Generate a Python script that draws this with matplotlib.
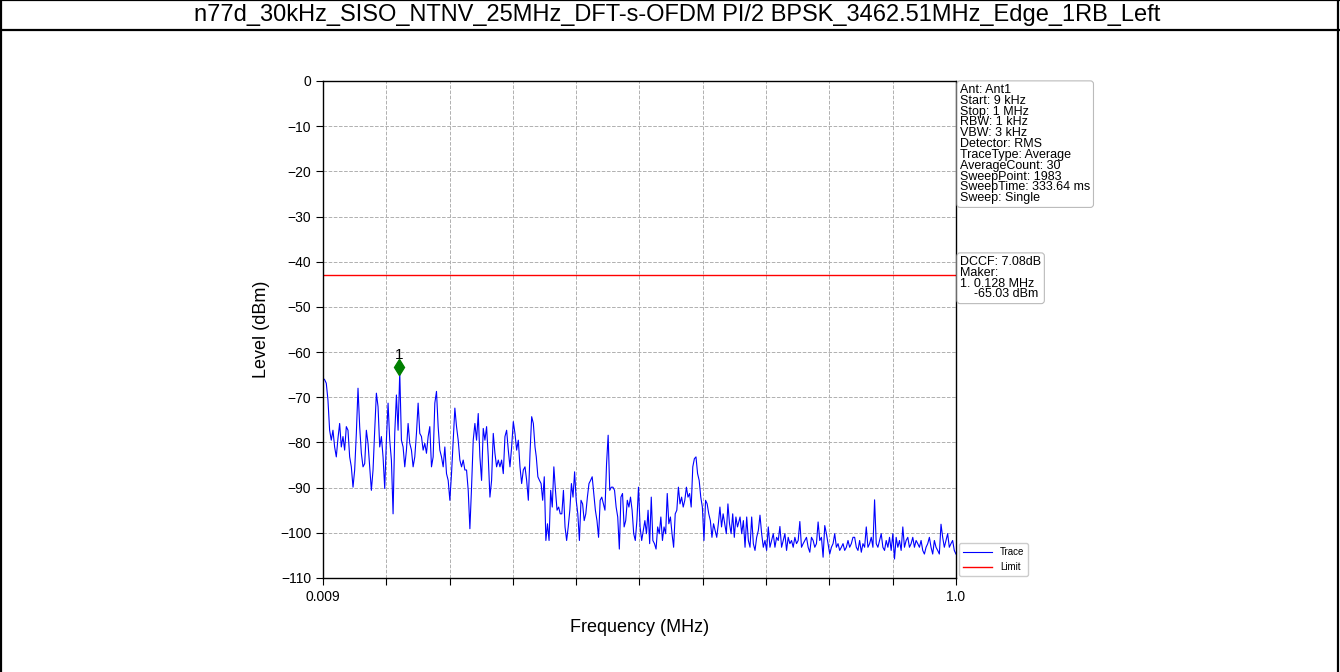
import numpy as np
import matplotlib
matplotlib.use('Agg')
import matplotlib.pyplot as plt
from matplotlib.lines import Line2D

plt.rcParams['font.family'] = ['Liberation Sans', 'DejaVu Sans']

# chart texts and settings
title = "n77d_30kHz_SISO_NTNV_25MHz_DFT-s-OFDM PI/2 BPSK_3462.51MHz_Edge_1RB_Left"
f_start = 0.009
f_stop = 1.0
limit_level = -43.0
marker_freq = 0.128
marker_level = -63.3
info_lines = ["Ant: Ant1", "Start: 9 kHz", "Stop: 1 MHz", "RBW: 1 kHz", "VBW: 3 kHz",
              "Detector: RMS", "TraceType: Average", "AverageCount: 30",
              "SweepPoint: 1983", "SweepTime: 333.64 ms", "Sweep: Single"]
marker_lines = ["DCCF: 7.08dB", "Maker:", "1. 0.128 MHz", "    -65.03 dBm"]

# trace levels (dBm), read in three stretches of the sweep
level_a = [-65.8, -66.1, -66.9, -70.6, -77.3, -79.5, -77.3, -81.0, -83.2, -79.1,
           -75.8, -81.0, -78.7, -81.7, -76.5, -77.3, -83.2, -85.4, -89.9, -86.1,
           -78.0, -68.0, -76.5, -82.4, -85.4, -84.7, -77.3, -80.2, -85.4, -90.6,
           -86.1, -77.3, -69.1, -72.1, -81.0, -78.7, -83.2, -90.2, -79.5, -71.3,
           -79.5, -83.9, -95.8, -78.0, -69.5, -77.3, -64.5, -79.5, -81.0, -85.4,
           -81.7, -75.8, -80.2, -81.7, -85.4, -83.2, -78.0, -71.3, -78.0, -78.7,
           -81.7, -80.2, -82.4, -78.7, -76.5, -85.4, -83.2, -71.3, -68.7, -76.5,
           -81.7, -83.2, -85.4, -81.0, -86.9, -88.4, -92.8, -86.9, -79.5, -72.4,
           -76.5, -79.5, -83.9, -85.4, -83.9, -86.1, -86.1, -90.6, -99.1, -89.9,
           -79.5, -75.8, -79.5, -73.6, -83.2, -88.4, -76.9, -79.5, -76.5, -83.2,
           -92.1, -88.4, -78.0, -82.4, -85.4, -83.9, -85.4, -83.9, -86.9, -78.7,
           -77.3, -81.7, -85.4, -81.0, -75.4, -78.0, -81.7, -79.5, -85.4, -89.1,
           -86.1, -85.4, -88.4, -92.8, -82.4, -74.3, -75.8, -81.0]
level_b = [-83.2, -87.6, -88.4, -89.1, -92.8, -87.6, -101.7, -98.0, -101.7, -90.6,
           -94.3, -85.4, -90.6, -95.0, -94.3, -95.8, -95.8, -90.6, -98.7, -101.7,
           -98.7, -95.0, -89.1, -92.1, -86.5, -92.8, -95.8, -101.7, -92.8, -93.6,
           -97.3, -95.8, -92.1, -89.1, -88.4, -87.6, -91.3, -95.0, -97.3, -101.0,
           -92.8, -92.1, -93.6, -95.0, -84.7, -78.4, -90.6, -89.9, -89.9, -90.6,
           -94.3, -96.5, -103.6, -92.1, -91.3, -98.7, -97.3, -92.8, -94.3, -92.1,
           -95.0, -100.2, -101.7, -97.3, -89.9, -98.7, -101.7, -99.5, -97.3, -100.2,
           -95.0, -102.4, -92.1, -101.7, -102.4, -103.6, -98.7, -100.2, -96.5, -101.7,
           -98.7, -100.2, -91.3, -98.0, -96.5, -100.2, -103.2, -95.8, -95.0, -89.9,
           -93.6, -92.1, -94.3, -92.8, -89.9, -92.1, -91.3, -94.3, -85.4, -83.6,
           -83.2, -86.9, -88.4, -92.1, -94.3, -101.7, -92.8, -93.6, -95.8, -97.3,
           -101.0, -98.0, -99.5, -101.0, -98.0, -94.3, -98.7, -95.8, -98.0, -100.2,
           -93.6, -98.0, -100.2, -95.8, -101.0, -96.5, -98.7]
level_c = [-96.5, -100.2, -97.3, -103.2, -96.5, -101.7, -103.2, -96.5, -102.4, -103.9,
           -101.0, -99.5, -96.1, -100.2, -103.2, -101.7, -103.9, -98.7, -103.2, -101.7,
           -100.2, -103.2, -101.0, -101.7, -98.6, -103.2, -101.7, -100.2, -103.9, -101.0,
           -102.4, -101.7, -103.2, -101.0, -102.4, -101.7, -97.5, -103.2, -102.4, -101.7,
           -101.0, -103.2, -104.3, -101.0, -101.7, -103.2, -102.4, -97.6, -101.7, -101.0,
           -105.4, -98.4, -100.2, -102.4, -104.7, -103.2, -102.4, -100.2, -103.2, -102.4,
           -103.9, -103.2, -102.4, -103.9, -103.2, -101.7, -103.2, -102.4, -101.0, -101.0,
           -103.2, -103.9, -101.7, -104.3, -102.4, -103.2, -98.7, -103.2, -102.4, -101.0,
           -103.2, -92.7, -102.4, -103.2, -101.7, -100.2, -103.2, -103.9, -101.7, -103.2,
           -101.0, -103.9, -100.2, -105.8, -101.0, -103.2, -101.7, -103.9, -98.7, -103.2,
           -101.7, -101.0, -103.2, -102.4, -101.0, -103.2, -101.7, -102.4, -103.2, -101.7,
           -103.9, -104.7, -103.2, -102.4, -101.0, -103.2, -104.7, -101.7, -103.2, -103.9,
           -104.7, -98.1, -101.0, -103.2, -101.7, -100.2, -103.2, -102.4, -101.7, -103.9,
           -104.7]

freq_a = np.linspace(f_start, 0.341, len(level_a))
freq_b = np.linspace(0.343, 0.658, len(level_b))
freq_c = np.linspace(0.662, f_stop, len(level_c))
freq = np.concatenate([freq_a, freq_b, freq_c])
level = np.concatenate([level_a, level_b, level_c])

fig = plt.figure(figsize=(13.4, 6.72), dpi=100)

# frame: top, left and right edges, and the line under the title row
yt = 1 - 30 / 672
for xs, ys in [([0, 1], [0.9995, 0.9995]), ([0.0005, 0.0005], [0, 1]),
               ([0.9988, 0.9988], [0, 1]), ([0, 1], [yt, yt])]:
    fig.add_artist(Line2D(xs, ys, transform=fig.transFigure, color='black', lw=1.6))
fig.text(0.505, 1 - 15 / 672, title, ha='center', va='center', fontsize=17)

ax = fig.add_axes([0.241, 0.1399, 0.4724, 0.7396])
ax.plot(freq, level, color='blue', lw=0.8, label='Trace')
ax.axhline(limit_level, color='red', lw=1.0, label='Limit')
ax.plot([marker_freq], [marker_level], marker='d', color='green', ms=8, ls='none')
ax.text(marker_freq, marker_level + 1.0, '1', ha='center', va='bottom', fontsize=11)

ax.set_xlim(f_start, f_stop)
ax.set_ylim(-110, 0)
xt = np.linspace(f_start, f_stop, 11)
ax.set_xticks(xt)
ax.set_xticklabels(['0.009'] + [''] * 9 + ['1.0'])
ax.set_yticks(np.arange(-110, 1, 10))
ax.grid(True, ls='--', color='#b0b0b0', lw=0.7)
ax.tick_params(direction='out', labelsize=10, length=5)
for s in ax.spines.values():
    s.set_linewidth(1.0)
ax.set_xlabel('Frequency (MHz)', fontsize=13, labelpad=11)
ax.set_ylabel('Level (dBm)', fontsize=13, labelpad=7)

ax.legend(loc='lower left', bbox_to_anchor=(1.002, 0.0), fontsize=7, handlelength=3,
          borderaxespad=0.2, framealpha=1)

box = dict(boxstyle='round,pad=0.25', fc='white', ec='#bbbbbb', lw=0.8)
fig.text(0.7165, 1 - 84 / 672, "\n".join(info_lines), va='top', ha='left',
         fontsize=9, linespacing=0.87, bbox=box)
fig.text(0.7165, 1 - 256 / 672, "\n".join(marker_lines), va='top', ha='left',
         fontsize=9, linespacing=0.87, bbox=box)

plt.savefig('out.png', dpi=100)
